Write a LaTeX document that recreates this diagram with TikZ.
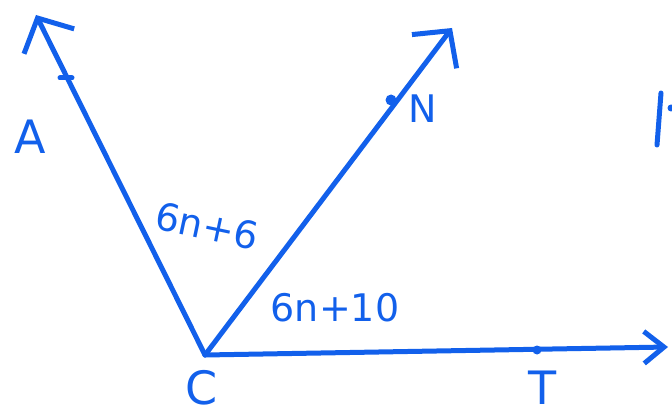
\documentclass[tikz,border=0pt]{standalone}
\usepackage{fontspec}
\setmainfont{DejaVu Sans}
\usetikzlibrary{arrows.meta}
\definecolor{pena}{RGB}{18,96,235}
\tikzset{
  lbl/.style={font=\fontsize{46}{55}\selectfont, inner sep=0pt},
  sudut/.style={font=\fontsize{38}{46}\selectfont, inner sep=0pt},
  titik/.style={fill=pena, draw=none}
}
\begin{document}
\begin{tikzpicture}[x=1pt, y=-1pt, line width=5pt, line cap=round, line join=round, color=pena,
    >={Straight Barb[length=26pt, width=56pt]}]
\useasboundingbox (0,0) rectangle (672,417);

    % Titik sudut dan ujung sinar
    \coordinate (c) at (205,355);
    \coordinate (a) at (36,15);
    \coordinate (n) at (452,28);
    \coordinate (t) at (668,347);

    % Titik pada sinar
    \coordinate (pa) at (67,78);
    \coordinate (pn) at (391,100);
    \coordinate (pt) at (537,350);

    % Sinar
    \draw[->] (c) -- (a);
    \draw[->] (c) -- (n);
    \draw[->, >={Straight Barb[length=20pt, width=32pt]}] (c) -- (t);

    % Tanda titik
    \draw (pa) ++(-7,0) -- ++(12,0);
    \fill[titik] (pn) circle (5.5);
    \fill[titik] (pt) circle (4.5);

    % Label
    \node[lbl] (la) at (30,137) {A};
    \node[lbl, font=\fontsize{38}{46}\selectfont] (ln) at (423,109) {N};
    \node[lbl] (lc) at (202,388) {C};
    \node[lbl] (lt) at (543,388) {T};
    \node[sudut, rotate=-12] (s1) at (207,226) {6n+6};
    \node[sudut] (s2) at (335,308) {6n+10};

    % Coretan di tepi kanan
    \draw (661,93) -- (657,145);
    \fill[titik] (671,108) circle (3.5);

\end{tikzpicture}
\end{document}
